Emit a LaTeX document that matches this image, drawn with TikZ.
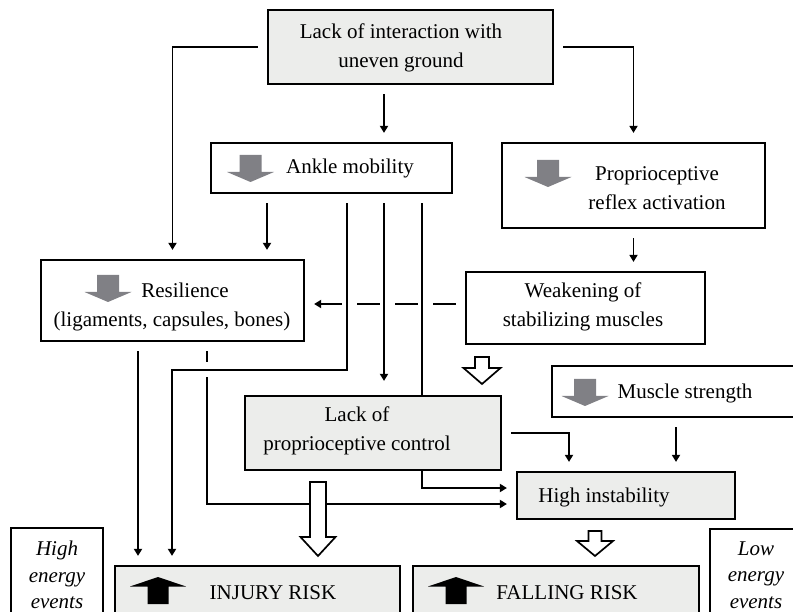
\documentclass[tikz,border=0pt]{standalone}
\usepackage{fontspec}
\setmainfont{Liberation Serif}
\usetikzlibrary{arrows.meta,backgrounds}
\definecolor{boxgray}{RGB}{236,237,235}
\definecolor{icongray}{RGB}{128,128,133}
\tikzset{
  box/.style={draw, line width=2.2pt, inner sep=0pt},
  gbox/.style={box, fill=boxgray},
  txt/.style={align=center, inner sep=0pt, font=\fontsize{21}{29.5}\selectfont},
  itxt/.style={align=center, inner sep=0pt, font=\fontsize{21}{26.5}\selectfont\itshape},
  conn/.style={line width=1.7pt, -{Triangle[length=7pt,width=8pt]}, shorten <=9pt, shorten >=9pt},
  hollow/.style={draw, line width=1.7pt, fill=white, line join=miter},
}
% gray "decrease" arrow: centre x, top y
\newcommand{\lessicon}[2]{%
  \fill[icongray] (#1-11,#2) -- (#1+11,#2) -- (#1+11,#2+17) -- (#1+23.5,#2+17)
    -- (#1,#2+27) -- (#1-23.5,#2+17) -- (#1-11,#2+17) -- cycle;}
% black "increase" arrow: centre x, top y
\newcommand{\moreicon}[2]{%
  \fill[black] (#1,#2) -- (#1+28,#2+9.5) -- (#1+10.5,#2+9.5) -- (#1+10.5,#2+27)
    -- (#1-10.5,#2+27) -- (#1-10.5,#2+9.5) -- (#1-28,#2+9.5) -- cycle;}
% hollow block arrow: x, top, head start, tip, half shaft, half head
\newcommand{\hollowdown}[6]{%
  \draw[hollow] (#1-#5,#2) -- (#1+#5,#2) -- (#1+#5,#3) -- (#1+#6,#3) -- (#1,#4)
    -- (#1-#6,#3) -- (#1-#5,#3) -- cycle;}

\begin{document}
\begin{tikzpicture}[x=1pt, y=-1pt]
    \useasboundingbox (0,0) rectangle (793,612);
    \clip (0,0) rectangle (793,612);

    % boxes
    \node[gbox, minimum width=285pt, minimum height=74pt] (top) at (410.5,47) {};
        \node[txt] (top-t) at (401,48) {Lack of interaction with\\uneven ground};
    \node[box, minimum width=241pt, minimum height=50pt] (ankle) at (331.5,168) {};
        \lessicon{250.5}{155}
        \node[txt] (ankle-t) at (350,168) {Ankle mobility};
    \node[box, minimum width=263pt, minimum height=85pt] (reflex) at (633.5,185.5) {};
        \lessicon{548}{160}
        \node[txt] (reflex-t) at (657,188) {Proprioceptive\\reflex activation};
    \node[box, minimum width=263pt, minimum height=81pt] (resil) at (172.5,300.5) {};
        \lessicon{108}{275}
        \node[txt] (resil-t) at (185,290) {Resilience};
        \node[txt] (resil-u) at (172,321) {(ligaments, capsules, bones)};
    \node[box, minimum width=239pt, minimum height=72pt] (weak) at (585.5,308) {};
        \node[txt] (weak-t) at (583,307) {Weakening of\\stabilizing muscles};
    \node[gbox, minimum width=256pt, minimum height=74pt] (ctrl) at (373,433) {};
        \node[txt] (ctrl-t) at (357,431) {Lack of\\proprioceptive control};
    \node[box, minimum width=248pt, minimum height=51pt] (strength) at (676,391.5) {};
        \lessicon{585}{379}
        \node[txt] (strength-t) at (685,393) {Muscle strength};
    \node[gbox, minimum width=218pt, minimum height=47pt] (instab) at (626,495.5) {};
        \node[txt] (instab-t) at (604,497) {High instability};
    \node[gbox, minimum width=285pt, minimum height=70pt] (injury) at (257.5,601) {};
        \moreicon{158}{577}
        \node[txt] (injury-t) at (273,593) {INJURY RISK};
    \node[gbox, minimum width=286pt, minimum height=70pt] (falling) at (556,601) {};
        \moreicon{456}{577}
        \node[txt] (falling-t) at (567,593) {FALLING RISK};
    \node[box, minimum width=92pt, minimum height=110pt] (high) at (57,583) {};
        \node[itxt] (high-t) at (57,575) {High\\energy\\events};
    \node[box, minimum width=90pt, minimum height=110pt] (low) at (755,584) {};
        \node[itxt] (low-t) at (756,575) {Low\\energy\\events};

    % connectors
    \draw[conn] (top.west) -| (resil.north);
    \draw[conn] (top.east) -| (reflex.north);
    \draw[conn] ([xshift=-26.5pt]top.south) -- ([xshift=52.5pt]ankle.north);
    \draw[conn] ([xshift=-64.5pt]ankle.south) -- ([xshift=94.5pt]resil.north);
    \draw[conn] (reflex.south) -- ([xshift=48pt]weak.north);
    \draw[conn, dash pattern=on 23pt off 15pt] ([yshift=4pt]weak.west) -- ([yshift=4pt]weak.west -| resil.east);
    \draw[conn, shorten >=14pt] ([xshift=52.5pt]ankle.south) -- ([xshift=11pt]ctrl.north);
    \draw[conn] ([xshift=15.5pt]ankle.south) -- ++(0,176) -| ([xshift=-85.5pt]injury.north);
    \begin{scope}[on background layer]
        \draw[conn] ([xshift=90.5pt]ankle.south) |- ([yshift=7.5pt]instab.west);
    \end{scope}
    \draw[conn] ([xshift=-34.5pt]resil.south) -- ([xshift=-119.5pt]injury.north);
    \draw[line width=1.7pt, shorten <=9pt] ([xshift=34.5pt]resil.south) -- ++(0,20);
    \draw[conn, shorten <=0pt] ([xshift=34.5pt,yshift=-35pt]resil.south) |- ([yshift=-8.5pt]instab.west);
    \draw[conn] (ctrl.east) -| ([xshift=-57pt]instab.north);
    \draw[conn] (strength.south) -- ([xshift=50pt]instab.north);

    % block arrows
    \hollowdown{482}{357}{368}{384}{7}{18.5}
    \hollowdown{318}{482}{537}{556}{8}{17.5}
    \hollowdown{595}{531}{541}{556}{6.5}{18}
\end{tikzpicture}
\end{document}
